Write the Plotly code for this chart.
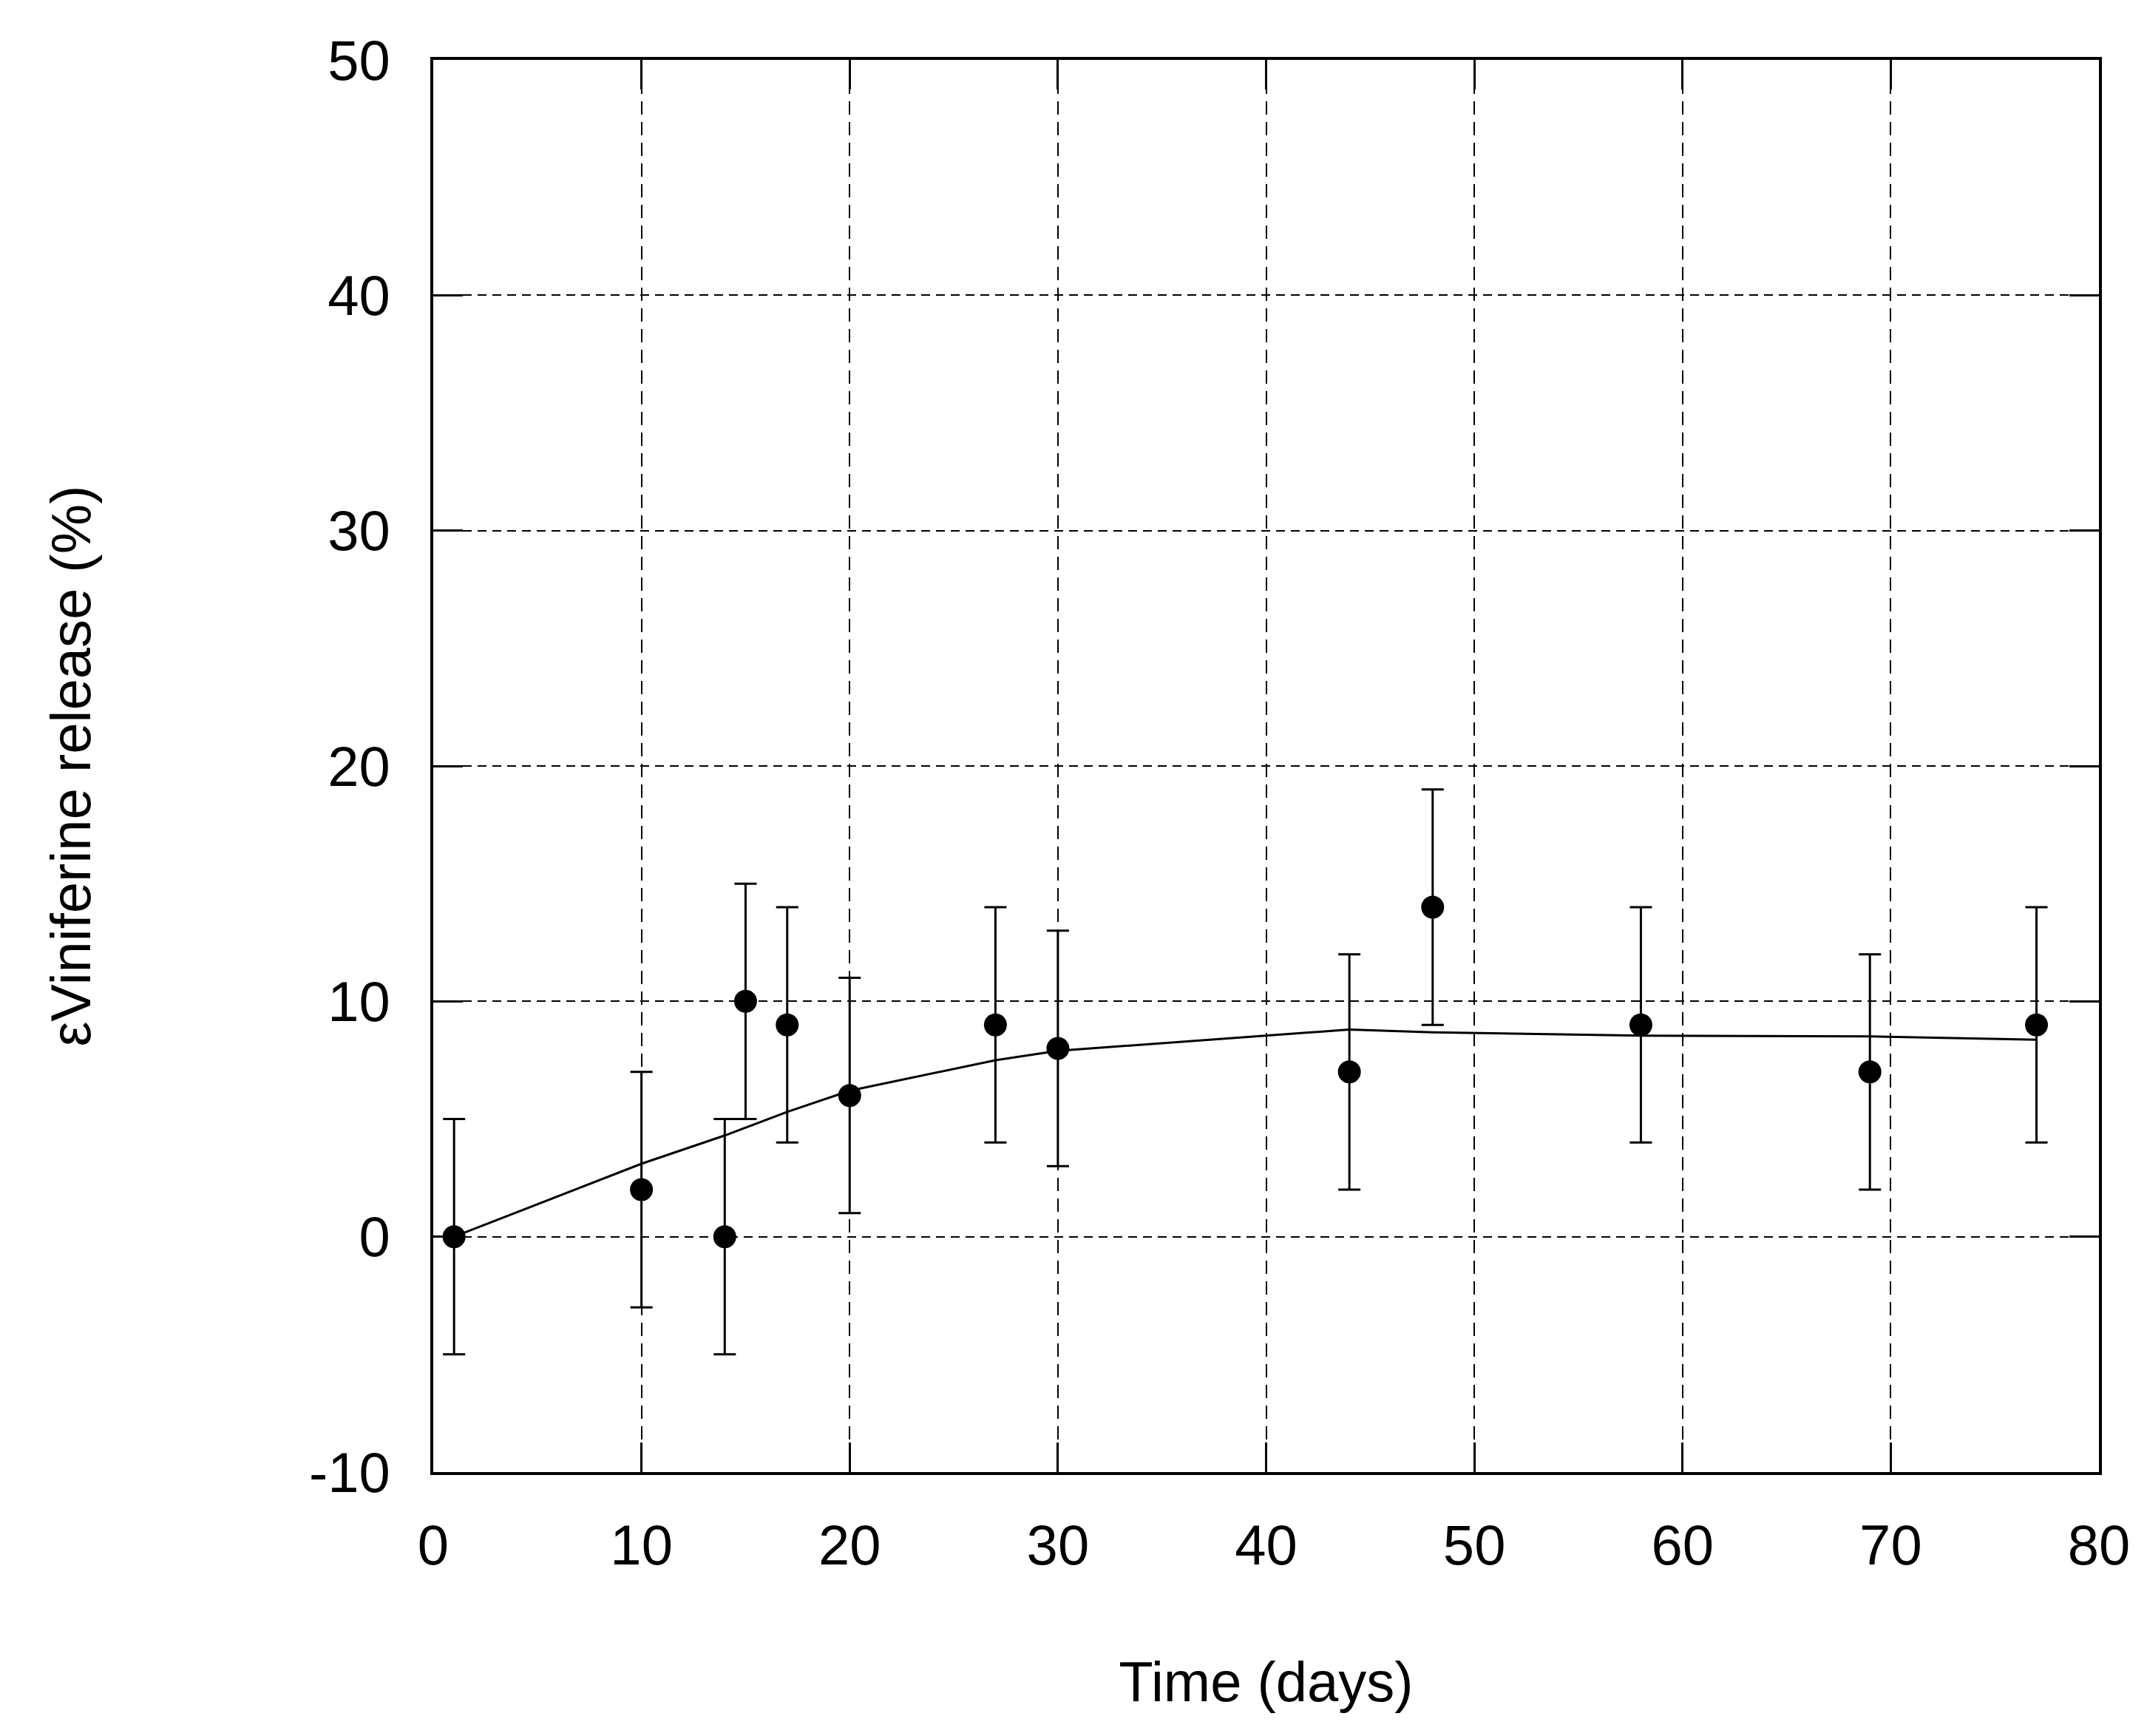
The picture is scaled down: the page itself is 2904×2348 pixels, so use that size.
import plotly.graph_objects as go

# данные
time_days = [1, 10, 14, 15, 17, 20, 27, 30, 44, 48, 58, 69, 77]
release = [0, 2, 0, 10, 9, 6, 9, 8, 7, 14, 9, 7, 9]
release_err = [5, 5, 5, 5, 5, 5, 5, 5, 5, 5, 5, 5, 5]

# кривая модели
fit_time = [1, 10, 14, 17, 20, 27, 30, 44, 48, 58, 69, 77]
fit_release = [0, 3.1, 4.3, 5.3, 6.2, 7.5, 7.9, 8.8, 8.68, 8.54, 8.51, 8.37]

x_ticks = [0, 10, 20, 30, 40, 50, 60, 70, 80]
y_ticks = [-10, 0, 10, 20, 30, 40, 50]
y_ticktext = ["-10", "0", "10", "20", "30", "40", "50"]

font_name = "Liberation Sans, Arial, sans-serif"

fig = go.Figure()

# линия модели
fig.add_trace(go.Scatter(
    x=fit_time, y=fit_release, mode="lines",
    line=dict(color="black", width=3),
    showlegend=False,
))

# экспериментальные точки с погрешностями
fig.add_trace(go.Scatter(
    x=time_days, y=release, mode="markers",
    marker=dict(color="black", size=31),
    error_y=dict(type="data", array=release_err, visible=True,
                 color="black", thickness=3, width=15),
    showlegend=False,
))

axis_common = dict(
    showline=True, linecolor="black", linewidth=4,
    mirror="ticks",
    ticks="inside", ticklen=40, tickwidth=3, tickcolor="black",
    showgrid=True, gridcolor="black", gridwidth=2,
    zeroline=False,
    tickfont=dict(family=font_name, size=76, color="black"),
    title_font=dict(family=font_name, size=76, color="black"),
)

fig.update_xaxes(
    range=[0, 80], tickvals=x_ticks,
    griddash="18px,10px",
    ticklabelstandoff=30,
    title_text="Time (days)", title_standoff=118,
    **axis_common,
)
fig.update_yaxes(
    range=[-10, 50], tickvals=y_ticks, ticktext=y_ticktext,
    griddash="12px,8px",
    ticklabelstandoff=39,
    title_text="εViniferine release (%)", title_standoff=271,
    **axis_common,
)

fig.update_layout(
    width=2904, height=2348,
    margin=dict(l=578, r=73, t=73, b=365),
    plot_bgcolor="white", paper_bgcolor="white",
    font=dict(family=font_name, color="black"),
)

fig.write_html("out.html")
